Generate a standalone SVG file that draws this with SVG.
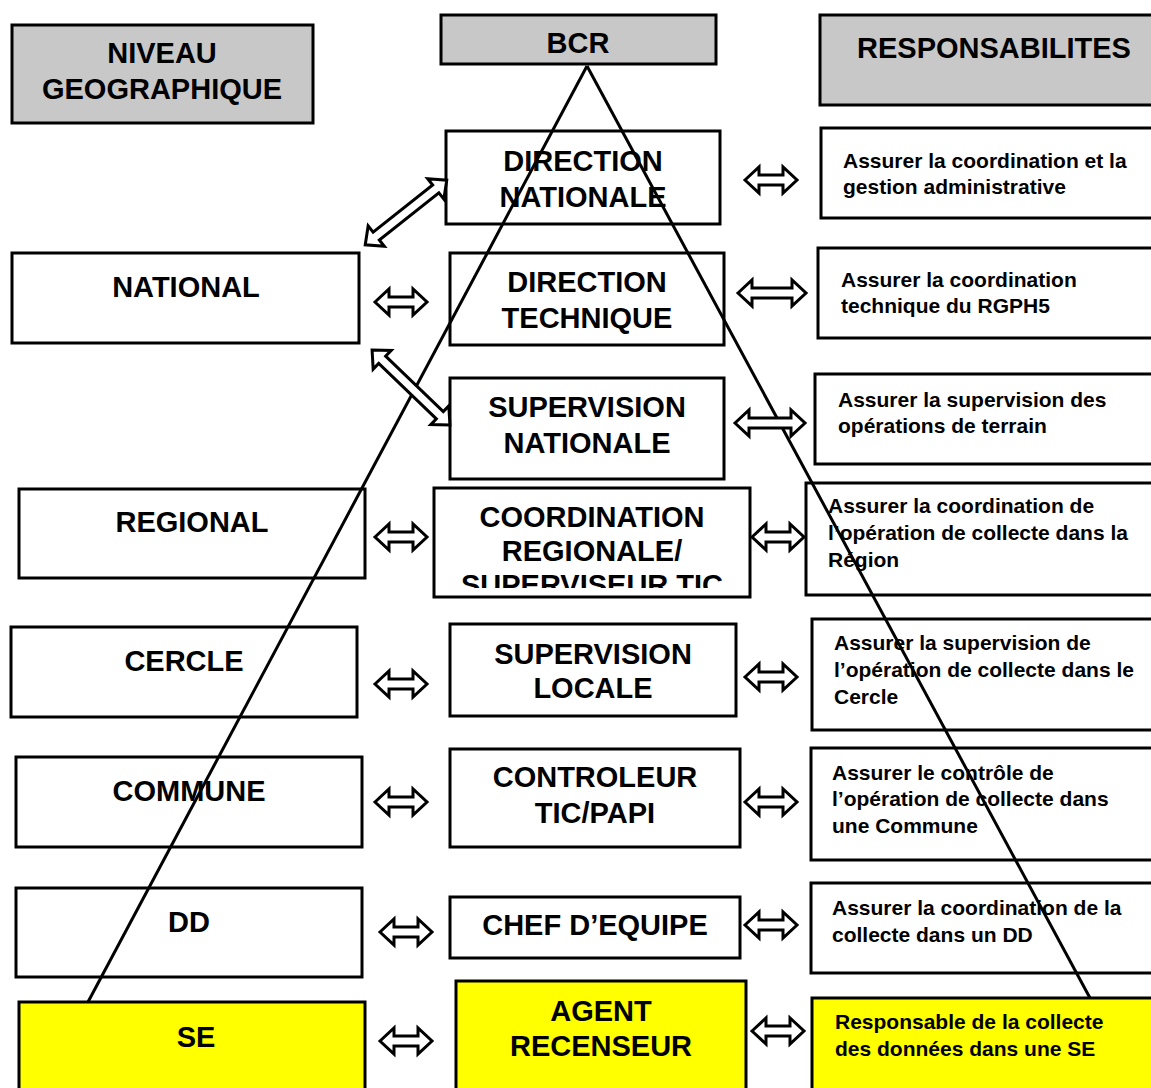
<svg xmlns="http://www.w3.org/2000/svg" width="1151" height="1088" viewBox="0 0 1151 1088">
<style>
.b{stroke:#000;stroke-width:3;fill:#fff}
.g{fill:#c8c8c8}
.y{fill:#ffff00}
.t{font-family:"Liberation Sans",Arial,sans-serif;font-weight:bold;font-size:29px;text-anchor:middle;fill:#000}
.r{font-family:"Liberation Sans",Arial,sans-serif;font-weight:bold;font-size:21px;fill:#000}
.da{fill:#fff;stroke:#000;stroke-width:3;stroke-linejoin:miter}
.ln{stroke:#000;stroke-width:3;fill:none}
</style>
<defs>
<clipPath id="clipCoord"><rect x="436" y="490" width="312" height="98"/></clipPath>
<polygon id="dbl" points="-26,0 -12,-13 -12,-5 12,-5 12,-13 26,0 12,13 12,5 -12,5 -12,13"/>
</defs>
<rect width="1151" height="1088" fill="#fff"/>

<!-- Left column -->
<g id="n-niveau"><rect class="b g" x="12" y="25" width="301" height="98"/><text class="t" x="162" y="63">NIVEAU</text><text class="t" x="162" y="99">GEOGRAPHIQUE</text></g>
<g id="n-national"><rect class="b" x="12" y="253" width="347" height="90"/><text class="t" x="186" y="297">NATIONAL</text></g>
<g id="n-regional"><rect class="b" x="19" y="489" width="346" height="89"/><text class="t" x="192" y="532">REGIONAL</text></g>
<g id="n-cercle"><rect class="b" x="11" y="627" width="346" height="90"/><text class="t" x="184" y="671">CERCLE</text></g>
<g id="n-commune"><rect class="b" x="16" y="757" width="346" height="90"/><text class="t" x="189" y="801">COMMUNE</text></g>
<g id="n-dd"><rect class="b" x="16" y="888" width="346" height="89"/><text class="t" x="189" y="932">DD</text></g>
<g id="n-se"><rect class="b y" x="19" y="1002" width="346" height="90"/><text class="t" x="196" y="1047">SE</text></g>

<!-- Middle column -->
<g id="n-bcr"><rect class="b g" x="441" y="15" width="275" height="49"/><text class="t" x="578" y="53">BCR</text></g>
<g id="n-dirnat"><rect class="b" x="446" y="131" width="274" height="93"/><text class="t" x="583" y="171">DIRECTION</text><text class="t" x="583" y="207">NATIONALE</text></g>
<g id="n-dirtech"><rect class="b" x="450" y="253" width="274" height="92"/><text class="t" x="587" y="292">DIRECTION</text><text class="t" x="587" y="328">TECHNIQUE</text></g>
<g id="n-supnat"><rect class="b" x="450" y="378" width="274" height="101"/><text class="t" x="587" y="417">SUPERVISION</text><text class="t" x="587" y="453">NATIONALE</text></g>
<g id="n-coord"><rect class="b" x="434" y="488" width="316" height="109"/><g clip-path="url(#clipCoord)"><text class="t" x="592" y="527">COORDINATION</text><text class="t" x="592" y="561">REGIONALE/</text><text class="t" x="592" y="595">SUPERVISEUR TIC</text></g></g>
<g id="n-suploc"><rect class="b" x="450" y="624" width="286" height="92"/><text class="t" x="593" y="664">SUPERVISION</text><text class="t" x="593" y="698">LOCALE</text></g>
<g id="n-controleur"><rect class="b" x="450" y="749" width="290" height="98"/><text class="t" x="595" y="787">CONTROLEUR</text><text class="t" x="595" y="823">TIC/PAPI</text></g>
<g id="n-chef"><rect class="b" x="450" y="897" width="290" height="61"/><text class="t" x="595" y="935">CHEF D’EQUIPE</text></g>
<g id="n-agent"><rect class="b y" x="456" y="981" width="290" height="110"/><text class="t" x="601" y="1021">AGENT</text><text class="t" x="601" y="1056">RECENSEUR</text></g>

<!-- Right column -->
<g id="n-resp"><rect class="b g" x="820" y="15" width="340" height="90"/><text class="t" x="994" y="58">RESPONSABILITES</text></g>
<g id="n-r1"><rect class="b" x="821" y="128" width="340" height="90"/><text class="r" x="843" y="168">Assurer la coordination et la</text><text class="r" x="843" y="194">gestion administrative</text></g>
<g id="n-r2"><rect class="b" x="818" y="248" width="340" height="90"/><text class="r" x="841" y="287">Assurer la coordination</text><text class="r" x="841" y="313">technique du RGPH5</text></g>
<g id="n-r3"><rect class="b" x="815" y="374" width="340" height="90"/><text class="r" x="838" y="407">Assurer la supervision des</text><text class="r" x="838" y="433">opérations de terrain</text></g>
<g id="n-r4"><rect class="b" x="806" y="483" width="350" height="112"/><text class="r" x="828" y="513">Assurer la coordination de</text><text class="r" x="828" y="540">l’opération de collecte dans la</text><text class="r" x="828" y="567">Région</text></g>
<g id="n-r5"><rect class="b" x="812" y="619" width="345" height="111"/><text class="r" x="834" y="650">Assurer la supervision de</text><text class="r" x="834" y="677">l’opération de collecte dans le</text><text class="r" x="834" y="704">Cercle</text></g>
<g id="n-r6"><rect class="b" x="811" y="748" width="345" height="112"/><text class="r" x="832" y="780">Assurer le contrôle de</text><text class="r" x="832" y="806">l’opération de collecte dans</text><text class="r" x="832" y="833">une Commune</text></g>
<g id="n-r7"><rect class="b" x="811" y="883" width="345" height="90"/><text class="r" x="832" y="915">Assurer la coordination de la</text><text class="r" x="832" y="942">collecte dans un DD</text></g>
<g id="n-r8"><rect class="b y" x="812" y="998" width="345" height="95"/><text class="r" x="835" y="1029">Responsable de la collecte</text><text class="r" x="835" y="1056">des données dans une SE</text></g>

<!-- Connectors -->
<g id="connectors">
<line class="ln" x1="587" y1="66" x2="88" y2="1002"/>
<line class="ln" x1="587" y1="66" x2="1090" y2="998"/>
<use href="#dbl" class="da" transform="translate(401,302)"/>
<use href="#dbl" class="da" transform="translate(401,537)"/>
<use href="#dbl" class="da" transform="translate(401,684)"/>
<use href="#dbl" class="da" transform="translate(401,802)"/>
<use href="#dbl" class="da" transform="translate(406,932)"/>
<use href="#dbl" class="da" transform="translate(406,1041)"/>
<use href="#dbl" class="da" transform="translate(771,180)"/>
<polygon class="da" points="738,293 752,280 752,288 792,288 792,280 806,293 792,306 792,298 752,298 752,306"/>
<polygon class="da" points="735,423 749,410 749,418 791,418 791,410 805,423 791,436 791,428 749,428 749,436"/>
<use href="#dbl" class="da" transform="translate(778,537)"/>
<use href="#dbl" class="da" transform="translate(771,677)"/>
<use href="#dbl" class="da" transform="translate(771,802)"/>
<use href="#dbl" class="da" transform="translate(771,925)"/>
<use href="#dbl" class="da" transform="translate(778,1031)"/>
<polygon class="da" transform="translate(406,212.5) rotate(-38.4)" points="-52,0 -38,-13 -38,-5 38,-5 38,-13 52,0 38,13 38,5 -38,5 -38,13"/>
<polygon class="da" transform="translate(411,387.5) rotate(43.9)" points="-54,0 -40,-13 -40,-5 40,-5 40,-13 54,0 40,13 40,5 -40,5 -40,13"/>
</g>
</svg>
